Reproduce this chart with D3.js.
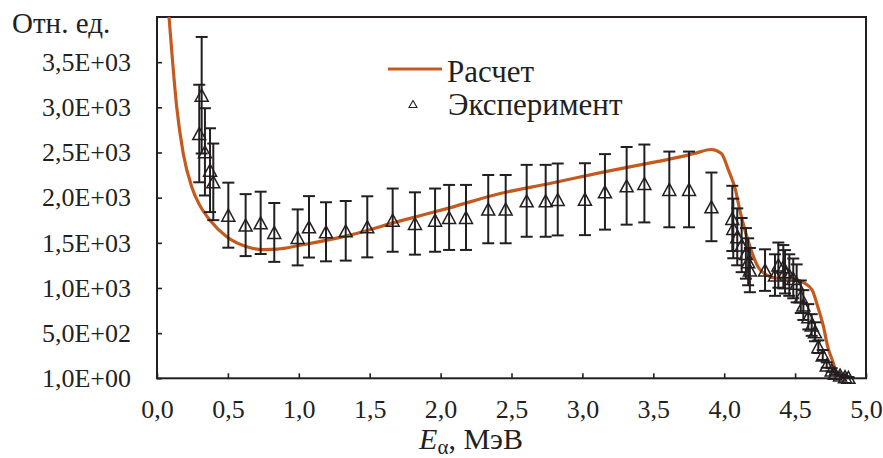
<!DOCTYPE html>
<html><head><meta charset="utf-8">
<script src="https://cdn.jsdelivr.net/npm/d3@7"></script>
<style>body{margin:0;background:#fff;}</style></head>
<body><svg id="c" width="883" height="458" font-family="Liberation Serif"></svg>
<script>
// ---- data ----
const calcE = [0.085,0.139,0.185,0.245,0.30,0.374,0.492,0.633,0.75,0.85,1.0,1.36,1.71,2.07,2.42,2.77,3.12,3.48,3.69,3.79,3.91,3.98,4.03,4.08,4.11,4.15,4.19,4.24,4.30,4.37,4.46,4.56,4.62,4.66,4.70,4.73,4.77,4.79,4.82];
const calcV = [4000,3004,2489,2119,1920,1750,1566,1456,1425,1430,1470,1585,1740,1890,2046,2157,2274,2385,2451,2489,2533,2489,2304,2083,1862,1620,1419,1230,1143,1110,1106,1058,977,792,571,350,166,55,0];
const expE = [0.315,0.298,0.338,0.374,0.397,0.503,0.625,0.731,0.827,0.992,1.072,1.192,1.331,1.483,1.662,1.819,1.961,2.06,2.179,2.336,2.459,2.607,2.741,2.826,3.018,3.159,3.312,3.437,3.613,3.752,3.910,4.057,4.064,4.092,4.123,4.153,4.169,4.181,4.288,4.358,4.382,4.417,4.429,4.459,4.487,4.511,4.540,4.558,4.593,4.617,4.640,4.664,4.695,4.723,4.758,4.781,4.817,4.852,4.876];
const expV = [3134,2710,2507,2304,2175,1806,1696,1721,1615,1560,1677,1622,1633,1677,1751,1714,1751,1781,1781,1873,1873,1965,1965,1980,1983,2064,2131,2157,2091,2091,1898,1770,1659,1566,1475,1383,1290,1198,1198,1143,1253,1235,1179,1143,1106,1051,903,811,681,590,515,350,258,147,92,55,37,18,11];
const expErr = [645,540,483,464,424,360,343,345,326,310,340,327,330,338,350,345,350,360,360,378,378,398,398,398,398,418,430,431,419,419,380,361,330,315,300,280,260,245,230,230,250,240,240,230,220,210,180,165,140,120,105,70,55,30,20,12,8,5,3];
const xTicks = [0,0.5,1,1.5,2,2.5,3,3.5,4,4.5,5];
const yTicks = [1,500,1000,1500,2000,2500,3000,3500];
const yLabel = "Отн. ед.";
const xLabelMain = "E", xLabelSub = "α", xLabelRest = ", МэВ";
const legendCalc = "Расчет", legendExp = "Эксперимент";

// ---- layout ----
const FONT = "Liberation Serif";
const L = 157, R = 866, T = 17, B = 378.3;
const x = d3.scaleLinear().domain([0,5]).range([L,R]);
const y = d3.scaleLinear().domain([0,4000]).range([B,T]);
const svg = d3.select("#c");
const ink = "#231f20", orange = "#c55a1f";

function fmtY(v){
  const e = Math.floor(Math.log10(v));
  const m = (v/Math.pow(10,e)).toFixed(1).replace(".",",");
  return m + "E+" + String(e).padStart(2,"0");
}

svg.append("clipPath").attr("id","pc").append("rect")
  .attr("x",L).attr("y",T).attr("width",R-L).attr("height",B-T);

// axes
const gx = svg.append("g").attr("transform",`translate(0,${B})`)
  .call(d3.axisBottom(x).tickValues(xTicks).tickSizeInner(-5).tickSizeOuter(0)
  .tickPadding(21).tickFormat(d=>d3.format(".1f")(d).replace(".",",")));
const gy = svg.append("g").attr("transform",`translate(${L},0)`)
  .call(d3.axisLeft(y).tickValues(yTicks).tickSizeInner(-5).tickSizeOuter(0)
  .tickPadding(26).tickFormat(fmtY));
[gx,gy].forEach(g=>{
  g.attr("font-family",FONT).attr("font-size",26);
  g.select(".domain").remove();
  g.selectAll("line").attr("stroke",ink).attr("stroke-width",1.6);
  g.selectAll("text").attr("fill",ink);
});
gx.selectAll("text").attr("dy","0.71em");
// frame
svg.append("rect").attr("x",L).attr("y",T).attr("width",R-L).attr("height",B-T)
  .attr("fill","none").attr("stroke",ink).attr("stroke-width",2);

// y label
svg.append("text").attr("x",12).attr("y",33).attr("font-size",29).attr("font-family",FONT).attr("fill",ink).text(yLabel);
// x label
const xt = svg.append("text").attr("x",471).attr("y",449).attr("font-size",30).attr("font-family",FONT).attr("fill",ink).attr("text-anchor","middle");
xt.append("tspan").attr("font-style","italic").text(xLabelMain);
xt.append("tspan").attr("font-size",21).attr("dy",5).text(xLabelSub);
xt.append("tspan").attr("dy",-5).text(xLabelRest);

// calc line
const calc = calcE.map((e,i)=>[e,calcV[i]]);
svg.append("path").datum(calc).attr("clip-path","url(#pc)")
  .attr("d",d3.line().x(d=>x(d[0])).y(d=>y(d[1])).curve(d3.curveMonotoneX))
  .attr("fill","none").attr("stroke",orange).attr("stroke-width",3.2);

// experimental
const exp = expE.map((e,i)=>({e,v:expV[i],s:expErr[i]}));
const ge = svg.append("g").attr("stroke",ink).attr("fill","none");
const cw = 6;
exp.forEach(d=>{
  const cx = x(d.e), y1 = y(d.v+d.s), y0 = y(Math.max(0,d.v-d.s));
  ge.append("line").attr("x1",cx).attr("x2",cx).attr("y1",y1).attr("y2",y0).attr("stroke-width",2);
  ge.append("line").attr("x1",cx-cw).attr("x2",cx+cw).attr("y1",y1).attr("y2",y1).attr("stroke-width",2);
  ge.append("line").attr("x1",cx-cw).attr("x2",cx+cw).attr("y1",y0).attr("y2",y0).attr("stroke-width",2);
});
const tri = (cx,cy,w,h)=>`M${cx},${cy-h/2}L${cx+w/2},${cy+h/2}L${cx-w/2},${cy+h/2}Z`;
exp.forEach(d=>{
  ge.append("path").attr("d",tri(x(d.e),y(d.v),13,12)).attr("stroke-width",1.5).attr("fill","none");
});

// legend
svg.append("line").attr("x1",388).attr("x2",442).attr("y1",69).attr("y2",69)
  .attr("stroke",orange).attr("stroke-width",3.2);
svg.append("text").attr("x",447).attr("y",82).attr("font-size",31).attr("font-family",FONT).attr("fill",ink).text(legendCalc);
svg.append("path").attr("d",tri(413,104,8,7)).attr("stroke",ink).attr("stroke-width",1.1).attr("fill","none");
svg.append("text").attr("x",448).attr("y",115).attr("font-size",31).attr("font-family",FONT).attr("fill",ink).text(legendExp);
</script></body></html>
